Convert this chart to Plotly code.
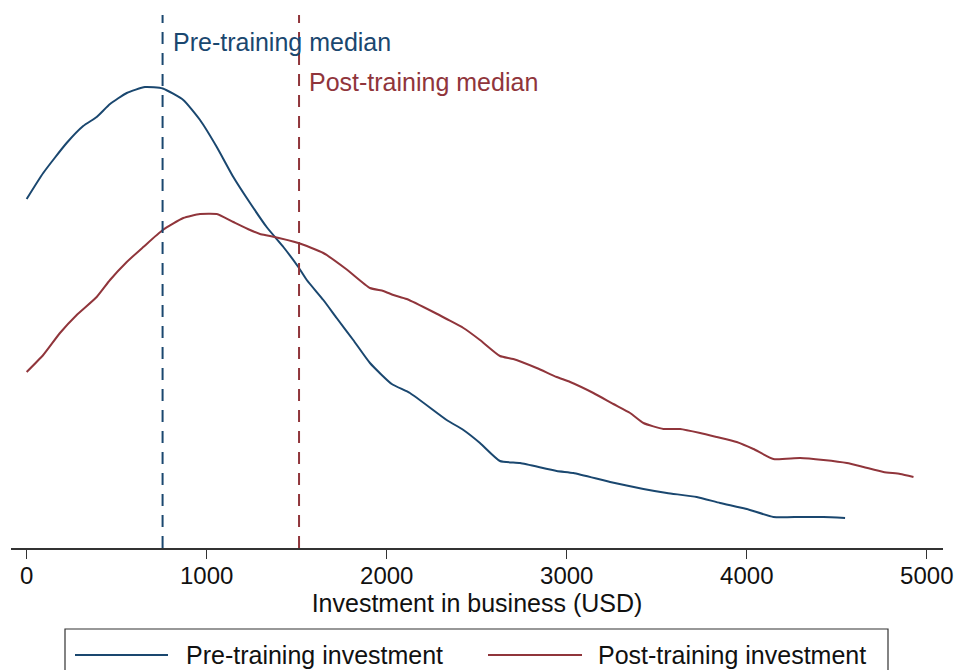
import plotly.graph_objects as go

# Kernel density of business investment, before and after training.
# Densities are stored in units of 1e-4 per USD.
invest_pre = [0, 92, 222, 314, 389, 463, 556, 657, 756, 870, 963, 1056, 1148, 1241,
              1333, 1426, 1509, 1556, 1648, 1722, 1814, 1907, 2028, 2129, 2333, 2426,
              2518, 2629, 2741, 2944, 3037, 3241, 3426, 3556, 3722, 3852, 4000, 4148,
              4296, 4426, 4546]
density_pre = [3.49, 3.75, 4.05, 4.22, 4.31, 4.44, 4.55, 4.61, 4.595, 4.48, 4.28, 4.01,
               3.71, 3.45, 3.21, 3.01, 2.81, 2.68, 2.48, 2.30, 2.08, 1.85, 1.64, 1.55,
               1.28, 1.18, 1.05, 0.87, 0.85, 0.77, 0.75, 0.66, 0.59, 0.55, 0.51, 0.45,
               0.39, 0.31, 0.31, 0.31, 0.30]

invest_post = [0, 92, 185, 278, 389, 463, 556, 648, 756, 870, 963, 1056, 1148, 1241,
               1296, 1352, 1509, 1648, 1778, 1907, 1981, 2037, 2111, 2259, 2333, 2426,
               2518, 2629, 2703, 2833, 2944, 3019, 3148, 3259, 3352, 3426, 3537, 3630,
               3741, 3833, 3944, 4037, 4148, 4296, 4426, 4556, 4648, 4759, 4852, 4926]
density_post = [1.76, 1.93, 2.15, 2.33, 2.51, 2.68, 2.86, 3.01, 3.18, 3.30, 3.34, 3.34,
                3.26, 3.18, 3.14, 3.12, 3.05, 2.95, 2.785, 2.60, 2.57, 2.53, 2.49, 2.36,
                2.29, 2.20, 2.08, 1.92, 1.89, 1.80, 1.71, 1.66, 1.55, 1.44, 1.35, 1.25,
                1.19, 1.19, 1.15, 1.11, 1.06, 0.99, 0.89, 0.90, 0.88, 0.85, 0.81, 0.76,
                0.74, 0.71]

median_pre = 755
median_post = 1513

x_ticks = [0, 1000, 2000, 3000, 4000, 5000]

series_names = ["Pre-training investment", "Post-training investment"]
median_labels = ["Pre-training median", "Post-training median"]

BLUE = "#1A476F"
RED = "#90353B"
FONT = "Liberation Sans, Arial, Helvetica, sans-serif"
scale = 1e-4

fig = go.Figure()
fig.add_trace(go.Scatter(x=invest_pre, y=[v * scale for v in density_pre],
                         mode="lines", name=series_names[0],
                         line=dict(color=BLUE, width=2, shape="spline",
                                   smoothing=0.5)))
fig.add_trace(go.Scatter(x=invest_post, y=[v * scale for v in density_post],
                         mode="lines", name=series_names[1],
                         line=dict(color=RED, width=2, shape="spline",
                                   smoothing=0.5)))

# Dashed median markers
y_top = 5.33 * scale
for med, col in [(median_pre, BLUE), (median_post, RED)]:
    fig.add_shape(type="line", xref="x", yref="y", x0=med, x1=med, y0=0, y1=y_top,
                  line=dict(color=col, width=2, dash="12px,9px"))

fig.add_annotation(x=median_pre, y=5.06 * scale, xref="x", yref="y",
                   text=median_labels[0], showarrow=False, xanchor="left",
                   yanchor="middle", xshift=8,
                   font=dict(family=FONT, size=25, color=BLUE))
fig.add_annotation(x=median_post, y=4.66 * scale, xref="x", yref="y",
                   text=median_labels[1], showarrow=False, xanchor="left",
                   yanchor="middle", xshift=8,
                   font=dict(family=FONT, size=25, color=RED))

# Legend drawn below the axis
W, H = 956, 670
ml, mr, mt, mb = 11, 13, 10, 122
pw, ph = W - ml - mr, H - mt - mb


def px_x(p):
    return (p - ml) / pw


def px_y(p):
    return (H - mb - p) / ph


fig.add_shape(type="rect", xref="paper", yref="paper",
              x0=px_x(65), x1=px_x(888), y0=px_y(629), y1=px_y(700),
              line=dict(color="#333333", width=1.2), fillcolor="rgba(0,0,0,0)")
for (x0, x1, col, tx, name) in [(75, 168, BLUE, 184, series_names[0]),
                                (488, 582, RED, 596, series_names[1])]:
    fig.add_shape(type="line", xref="paper", yref="paper",
                  x0=px_x(x0), x1=px_x(x1), y0=px_y(655), y1=px_y(655),
                  line=dict(color=col, width=2))
    fig.add_annotation(x=px_x(tx), y=px_y(655), xref="paper", yref="paper",
                       text=name, showarrow=False, xanchor="left", yanchor="middle",
                       font=dict(family=FONT, size=25, color="#111111"))

fig.update_layout(
    width=W, height=H,
    margin=dict(l=ml, r=mr, t=mt, b=mb),
    paper_bgcolor="white", plot_bgcolor="white",
    showlegend=False,
    font=dict(family=FONT, size=24, color="#111111"),
    xaxis=dict(range=[-87, 5090], tickvals=x_ticks,
               ticktext=[str(t) for t in x_ticks],
               showgrid=False, zeroline=False, showline=True,
               linecolor="#333333", linewidth=1.5,
               ticks="outside", ticklen=9, tickwidth=1.2, tickcolor="#333333",
               ticklabelstandoff=-4,
               tickfont=dict(family=FONT, size=24, color="#111111"),
               title=dict(text="Investment in business (USD)", standoff=0,
                          font=dict(family=FONT, size=25, color="#111111")),
               automargin=False),
    yaxis=dict(range=[0, 5.38 * scale], visible=False, showgrid=False,
               zeroline=False),
)

fig.write_html("out.html")
